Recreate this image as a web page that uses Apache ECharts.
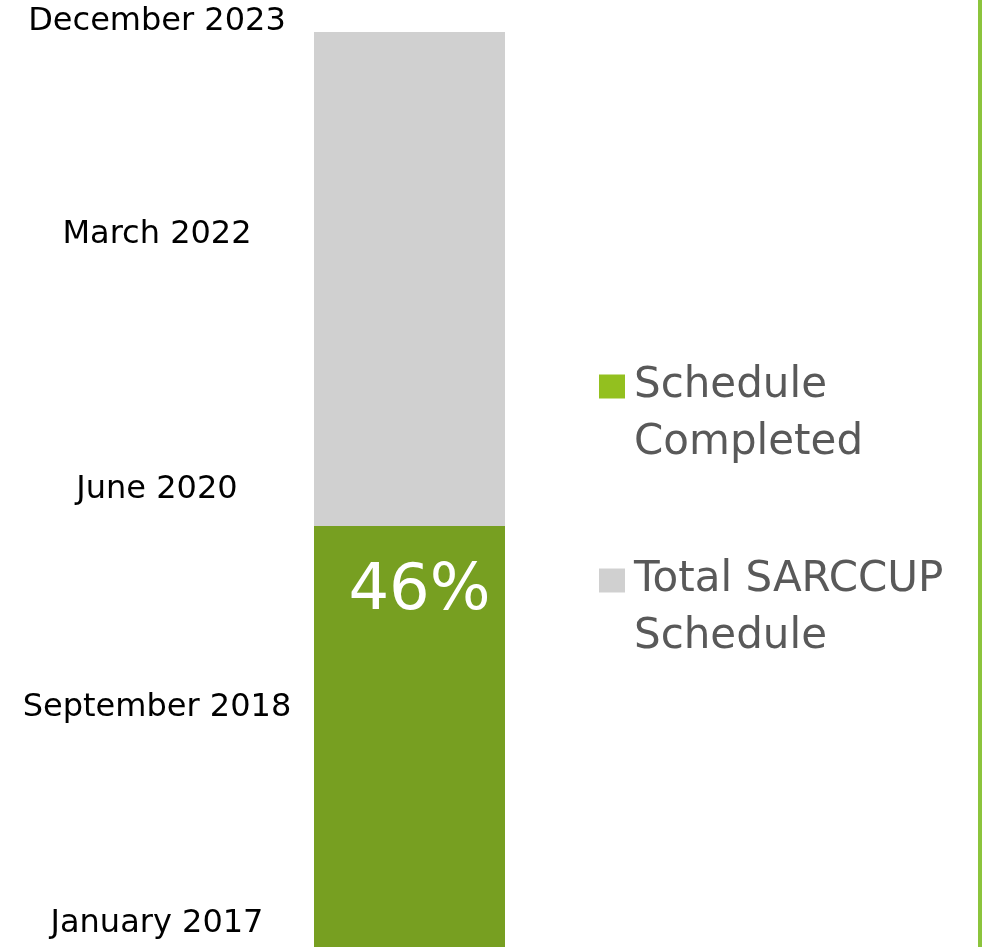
<!DOCTYPE html>
<html>
<head>
<meta charset="utf-8">
<script src="https://cdn.jsdelivr.net/npm/echarts@6/dist/echarts.min.js"></script>
<style>
    html, body {margin: 0; padding: 0; background: #fff;}
    #chart {width: 982px; height: 947px;}
</style>
</head>
<body>
<div id="chart"></div>
<script>
// schedule bar, one column
var categories = ['SARCCUP'];
var totalSchedule = [100];
var completedSchedule = [46];

// date ticks on the left axis (axis runs 0..100 of total schedule)
var tickLabels = ['January 2017', 'September 2018', 'June 2020', 'March 2022', 'December 2023'];
var tickValues = [2.5, 26.2, 50.0, 77.8, 101.1];

var legendNames = ['Schedule\nCompleted', 'Total SARCCUP\nSchedule'];

var myChart = echarts.init(document.getElementById('chart'));

var option = {
    animation: false,
    grid: {left: 314, right: 477, top: 13.7, bottom: 0},
    xAxis: {
        type: 'category',
        data: categories,
        show: false
    },
    yAxis: {
        type: 'value',
        min: 0,
        max: 102,
        axisLine: {show: false},
        axisTick: {show: false},
        splitLine: {show: false},
        axisLabel: {
            customValues: tickValues,
            align: 'center',
            margin: 157,
            color: '#000',
            fontFamily: 'DejaVu Sans',
            fontSize: 32,
            formatter: function (v) {
                var i = tickValues.indexOf(v);
                return i >= 0 ? tickLabels[i] : '';
            }
        }
    },
    legend: {
        orient: 'vertical',
        left: 599,
        top: 301,
        padding: 0,
        itemWidth: 26,
        itemHeight: 24,
        itemGap: 23,
        icon: 'rect',
        selectedMode: false,
        // blank first line so the icon sits level with the first text line
        formatter: function (name) {
            return '\n' + name;
        },
        textStyle: {
            color: '#595959',
            fontFamily: 'DejaVu Sans',
            fontSize: 42,
            lineHeight: 57,
            padding: [0, 0, 0, 4]
        },
        data: [
            {name: legendNames[0], itemStyle: {color: '#93c01f'}},
            {name: legendNames[1], itemStyle: {color: '#d0d0d0'}}
        ]
    },
    series: [
        {
            name: legendNames[1],
            type: 'bar',
            data: totalSchedule,
            barWidth: 191,
            barGap: '-100%',
            itemStyle: {color: '#d0d0d0'},
            z: 1
        },
        {
            name: legendNames[0],
            type: 'bar',
            data: completedSchedule,
            barWidth: 191,
            itemStyle: {color: '#779f21'},
            label: {
                show: true,
                position: 'insideTop',
                distance: 34,
                offset: [10, 0],
                color: '#fff',
                fontFamily: 'DejaVu Sans',
                fontSize: 64,
                formatter: '{c}%'
            },
            z: 2
        }
    ],
    graphic: [
        {
            type: 'rect',
            right: 0,
            top: 0,
            shape: {width: 4, height: 947},
            style: {fill: '#8cc43c'}
        }
    ]
};

myChart.setOption(option, true);
</script>
</body>
</html>
